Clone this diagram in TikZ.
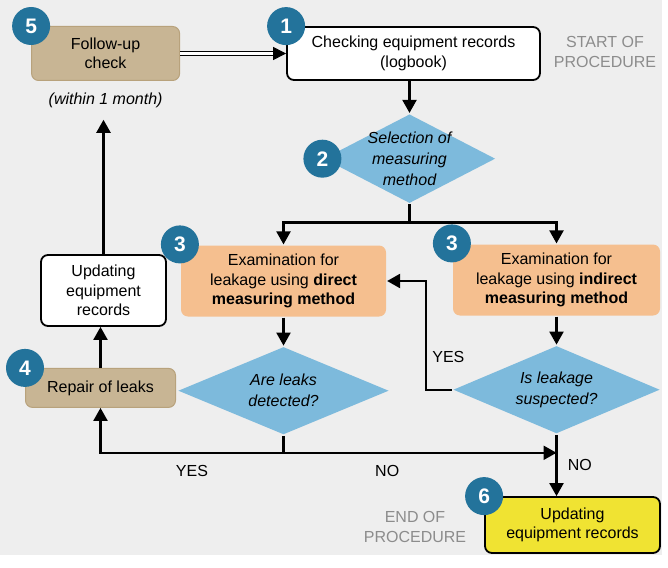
\documentclass[tikz,border=0pt]{standalone}
\usepackage{fontspec}
\setmainfont{Liberation Sans}
\usetikzlibrary{positioning,shapes.geometric,arrows.meta}
\definecolor{bggray}{HTML}{EEEEEE}
\definecolor{numblue}{HTML}{23739B}
\definecolor{diablue}{HTML}{7DBADC}
\definecolor{peach}{HTML}{F5BF8F}
\definecolor{sand}{HTML}{C8B594}
\definecolor{sandline}{HTML}{B8A27C}
\definecolor{lemon}{HTML}{F0E332}
\definecolor{greytext}{HTML}{8C8C8C}

\begin{document}
\begin{tikzpicture}
[x=1pt, y=1pt, node distance=30pt, line width=2.2pt,
 font=\fontsize{16}{19.5}\selectfont,
 >={Triangle[length=13pt,width=14pt]},
 box/.style={rounded corners=7pt, align=center, inner sep=0pt},
 dia/.style={diamond, fill=diablue, align=center, inner sep=-12pt, font=\fontsize{16}{21}\selectfont\itshape},
 num/.style={circle, fill=numblue, text=white, minimum size=38pt, inner sep=0pt, font=\fontsize{21}{21}\selectfont\bfseries},
 remark/.style={text=greytext, align=center}]

\useasboundingbox (0,0) rectangle (668,-567);
\fill[white] (0,0) rectangle (668,-567);
\fill[bggray] (0,0) rectangle (662,-555);

\node[box, draw, line width=1.8pt, fill=white, minimum width=253pt, minimum height=53pt] (chk) at (413.5,-53.5) {Checking equipment records\\(logbook)};

\node[box, draw=sandline, line width=1pt, fill=sand, minimum width=148pt, minimum height=54pt, left=106pt of chk] (fol) {Follow-up\\check};

\node[below=7pt of fol, font=\fontsize{16}{19.5}\selectfont\itshape] (within) {(within 1 month)};

\node[dia, minimum width=172pt, minimum height=86pt, below=32pt of chk, xshift=-4pt] (sel) {Selection of\\measuring\\method};

\node[box, fill=peach, minimum width=205pt, minimum height=71pt] (dir) at (283.5,-281) {Examination for\\leakage using \textbf{direct}\\\textbf{measuring method}};

\node[box, fill=peach, minimum width=207pt, minimum height=71pt] (ind) at (556.5,-280) {Examination for\\leakage using \textbf{indirect}\\\textbf{measuring method}};

\node[dia, minimum width=211pt, minimum height=88pt, below=28pt of dir] (det) {Are leaks\\detected?};

\node[dia, minimum width=207pt, minimum height=88pt, below=28pt of ind] (sus) {Is leakage\\suspected?};

\node[box, draw, line width=1.8pt, fill=white, minimum width=125pt, minimum height=71pt] (upd) at (103.5,-290.5) {Updating\\equipment\\records};

\node[box, draw=sandline, line width=1pt, fill=sand, minimum width=150pt, minimum height=39pt, below=41pt of upd, xshift=-3pt] (rep) {Repair of leaks};

\node[box, draw, line width=1.8pt, fill=lemon, minimum width=175pt, minimum height=56pt] (fin) at (572.5,-525) {Updating\\equipment records};

\node[remark] (start) at (605,-52) {START OF\\PROCEDURE};
\node[remark] (end) at (415,-527) {END OF\\PROCEDURE};

\node[num] (n1) at (chk.north west) {1};
\node[num] (n2) at (sel.west) {2};
\node[num] (n3a) at (dir.north west) {3};
\node[num] (n3b) at (ind.north west) {3};
\node[num] (n4) at (rep.north west) {4};
\node[num] (n5) at (fol.north west) {5};
\node[num] (n6) at (fin.north west) {6};

\draw[-{Triangle[length=13pt,width=13pt]}, double, double distance=2.5pt, line width=1pt] (fol) -- (chk);
\draw[->] (chk.south -| sel.north) -- (sel.north);

\coordinate (split) at ([yshift=-18pt]sel.south);
\draw (sel.south) -- (split);
\draw[->] (split) -| (dir.north);
\draw[->] (split) -| (ind.north);

\draw[->] (dir) -- (det);
\draw[->] (ind) -- (sus);
\draw[->] (sus.west) -- ++(-26pt,0) |- (dir.east) node[pos=0.15, right=2pt] (yes1) {YES};

\coordinate (join) at ([yshift=-17pt]det.south);
\draw (det.south) -- (join);
\draw[->] (join) -| (rep.south) node[pos=0.25, below=8pt] (yes2) {YES};
\draw[->] (join) -- (join -| sus.south) node[pos=0.38, below=8pt] (no1) {NO};
\draw[->] (sus.south) -- (sus.south |- fin.north) node[midway, right=7pt] (no2) {NO};

\draw[->] (rep.north) -- (rep.north |- upd.south);
\draw[->, shorten >=8pt] (upd.north) -- (upd.north |- within.south);

\end{tikzpicture}
\end{document}
